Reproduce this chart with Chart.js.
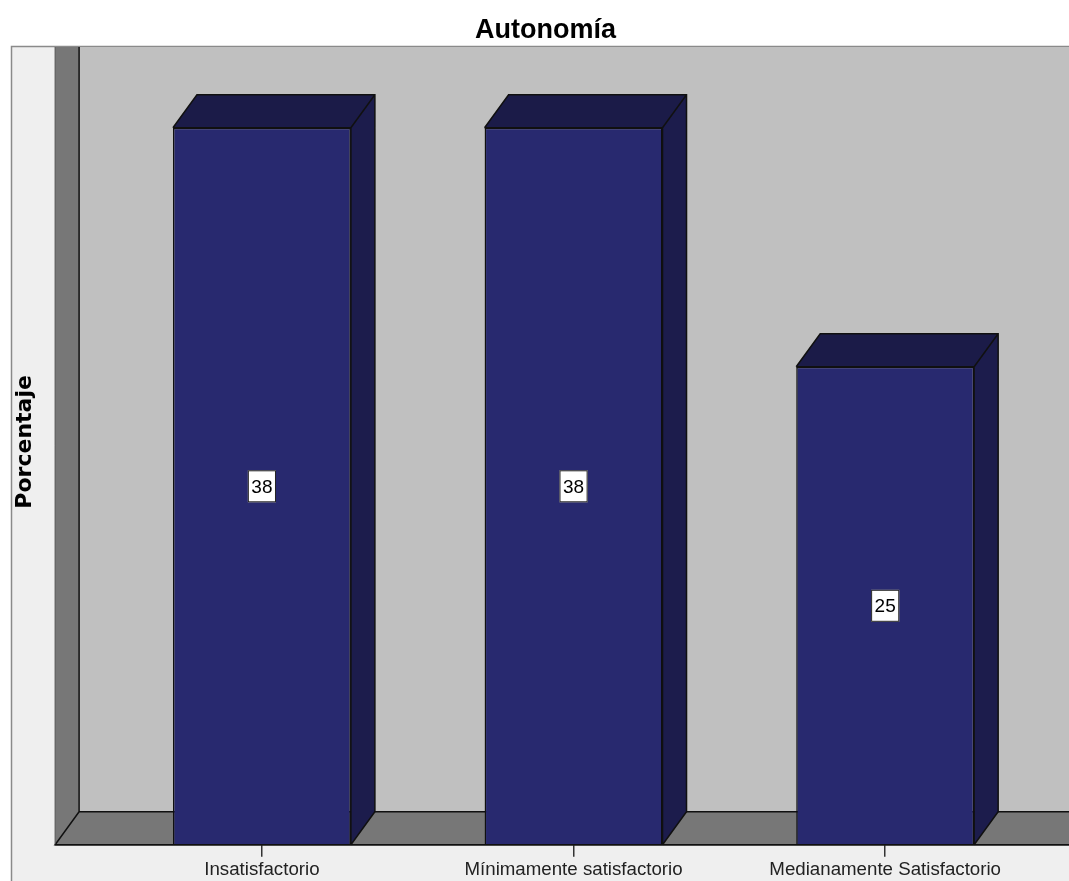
<!DOCTYPE html>
<html>
<head>
<meta charset="utf-8">
<script src="https://cdn.jsdelivr.net/npm/chart.js@4/dist/chart.umd.min.js"></script>
<style>
  html, body { margin: 0; padding: 0; background: #ffffff; }
  #wrap { width: 1069px; height: 881px; position: relative; }
</style>
</head>
<body>
<div id="wrap"><canvas id="c"></canvas></div>
<script>
// ---- data ----
const categories = ['Insatisfactorio', 'Mínimamente satisfactorio', 'Medianamente Satisfactorio'];
const percentages = [37.5, 37.5, 25];
const chartTitle = 'Autonomía';
const yAxisTitle = 'Porcentaje';
const yMin = 0;
const yMax = 40;

// ---- styling ----
const FRONT = '#28296f';
const TOP = '#1b1b48';
const SIDE = '#1c1c4c';
const EDGE = '#101010';
const WALL = '#c0c0c0';
const DARKWALL = '#777777';
const PANEL = '#efefef';
const DX = 24, DY = 33;     // depth offset of the 3D look
const WALL_GAP = 51;         // gap between left wall front edge and chart area

const scenePlugin = {
  id: 'scene3d',
  beforeDraw(chart) {
    const ctx = chart.ctx;
    const a = chart.chartArea;
    const W = chart.width, H = chart.height;
    const fx = a.left - WALL_GAP;     // front x of left wall
    const bx = fx + DX;               // back x
    const topY = a.top - DY;          // back wall top
    const floorBack = a.bottom - DY;
    const floorFront = a.bottom;
    ctx.save();
    // outer panel
    ctx.fillStyle = PANEL;
    ctx.fillRect(11.5, topY - 0.5, W, H);
    ctx.strokeStyle = '#8a8a8a';
    ctx.lineWidth = 1.5;
    ctx.beginPath();
    ctx.moveTo(11.5, H + 2); ctx.lineTo(11.5, topY - 0.5); ctx.lineTo(W + 2, topY - 0.5);
    ctx.stroke();
    // back wall
    ctx.fillStyle = WALL;
    ctx.fillRect(bx, topY, W - bx, floorBack - topY);
    // left wall
    ctx.fillStyle = DARKWALL;
    ctx.beginPath();
    ctx.moveTo(fx, topY); ctx.lineTo(bx, topY); ctx.lineTo(bx, floorBack); ctx.lineTo(fx, floorFront);
    ctx.closePath(); ctx.fill();
    // floor
    ctx.beginPath();
    ctx.moveTo(fx, floorFront); ctx.lineTo(bx, floorBack); ctx.lineTo(W, floorBack); ctx.lineTo(W, floorFront);
    ctx.closePath(); ctx.fill();
    // edges
    ctx.strokeStyle = EDGE;
    ctx.lineWidth = 1.5;
    ctx.beginPath();
    ctx.moveTo(bx, topY); ctx.lineTo(bx, floorBack); ctx.lineTo(W, floorBack);
    ctx.moveTo(bx, floorBack); ctx.lineTo(fx, floorFront); ctx.lineTo(W, floorFront);
    ctx.stroke();
    ctx.strokeStyle = '#555555';
    ctx.lineWidth = 1;
    ctx.beginPath();
    ctx.moveTo(fx, topY); ctx.lineTo(fx, floorFront);
    ctx.stroke();
    // y axis title
    ctx.save();
    ctx.translate(25.5, (topY + floorFront) / 2 - 4);
    ctx.rotate(-Math.PI / 2);
    ctx.fillStyle = '#000000';
    ctx.font = 'bold 22px "DejaVu Sans", Verdana, sans-serif';
    ctx.textAlign = 'center';
    ctx.textBaseline = 'middle';
    ctx.fillText(yAxisTitle, 0, 0);
    ctx.restore();
    ctx.restore();
  },
  afterDatasetsDraw(chart) {
    const ctx = chart.ctx;
    const meta = chart.getDatasetMeta(0);
    const data = chart.data.datasets[0].data;
    ctx.save();
    meta.data.forEach((bar, i) => {
      const p = bar.getProps(['x', 'y', 'base', 'width'], true);
      const l = p.x - p.width / 2, r = p.x + p.width / 2;
      const t = p.y, b = p.base;
      // top face
      ctx.fillStyle = TOP;
      ctx.beginPath();
      ctx.moveTo(l, t); ctx.lineTo(l + DX, t - DY); ctx.lineTo(r + DX, t - DY); ctx.lineTo(r, t);
      ctx.closePath(); ctx.fill();
      // side face
      ctx.fillStyle = SIDE;
      ctx.beginPath();
      ctx.moveTo(r, t); ctx.lineTo(r + DX, t - DY); ctx.lineTo(r + DX, b - DY); ctx.lineTo(r, b);
      ctx.closePath(); ctx.fill();
      ctx.strokeStyle = EDGE;
      ctx.lineWidth = 1.5;
      ctx.beginPath();
      ctx.moveTo(l, t); ctx.lineTo(l + DX, t - DY); ctx.lineTo(r + DX, t - DY); ctx.lineTo(r + DX, b - DY); ctx.lineTo(r, b);
      ctx.moveTo(r, t); ctx.lineTo(r + DX, t - DY);
      ctx.moveTo(l, t); ctx.lineTo(r, t); ctx.lineTo(r, b);
      ctx.stroke();
      // value label
      const txt = String(Math.round(data[i]));
      ctx.font = '19px "Liberation Sans", Arial, sans-serif';
      const tw = ctx.measureText(txt).width;
      const bw = tw + 7, bh = 32;
      const cy = (t + b) / 2;
      ctx.fillStyle = '#ffffff';
      ctx.fillRect(p.x - bw / 2, cy - bh / 2, bw, bh);
      ctx.strokeStyle = '#222222';
      ctx.lineWidth = 1;
      ctx.strokeRect(p.x - bw / 2 + 0.5, cy - bh / 2 + 0.5, bw - 1, bh - 1);
      ctx.fillStyle = '#000000';
      ctx.textAlign = 'center';
      ctx.textBaseline = 'middle';
      ctx.fillText(txt, p.x, cy + 1);
    });
    // front floor line over bar bottoms
    const a = chart.chartArea;
    ctx.strokeStyle = EDGE;
    ctx.lineWidth = 1.5;
    ctx.beginPath();
    ctx.moveTo(a.left - WALL_GAP, a.bottom); ctx.lineTo(chart.width, a.bottom);
    ctx.stroke();
    ctx.restore();
  }
};

new Chart(document.getElementById('c'), {
  type: 'bar',
  data: {
    labels: categories,
    datasets: [{
      label: yAxisTitle,
      data: percentages,
      backgroundColor: FRONT,
      borderColor: EDGE,
      borderWidth: 1.5,
      categoryPercentage: 1,
      barPercentage: 0.571
    }]
  },
  options: {
    responsive: true,
    maintainAspectRatio: false,
    animation: false,
    layout: { padding: { left: 50, right: 28, top: 0, bottom: -2.5 } },
    plugins: {
      legend: { display: false },
      tooltip: { enabled: false },
      title: {
        display: true,
        text: chartTitle,
        color: '#000000',
        font: { family: '"Liberation Sans", Arial, sans-serif', size: 27, weight: 'bold', lineHeight: 1.2 },
        padding: { top: 14, bottom: 33.6 }
      }
    },
    scales: {
      x: {
        type: 'category',
        offset: true,
        border: { display: false },
        grid: { display: true, drawOnChartArea: false, drawTicks: true, tickLength: 12, offset: false, color: '#333333', lineWidth: 1.5 },
        ticks: {
          color: '#222222',
          padding: 4,
          maxRotation: 0,
          autoSkip: false,
          font: { family: '"Liberation Sans", Arial, sans-serif', size: 18.7, lineHeight: 1 }
        }
      },
      y: {
        display: true,
        min: yMin,
        max: yMax,
        border: { display: false },
        grid: { display: false, drawTicks: false },
        ticks: { display: false },
        afterFit(scale) { scale.width = 56.1; }
      }
    }
  },
  plugins: [scenePlugin]
});
</script>
</body>
</html>
